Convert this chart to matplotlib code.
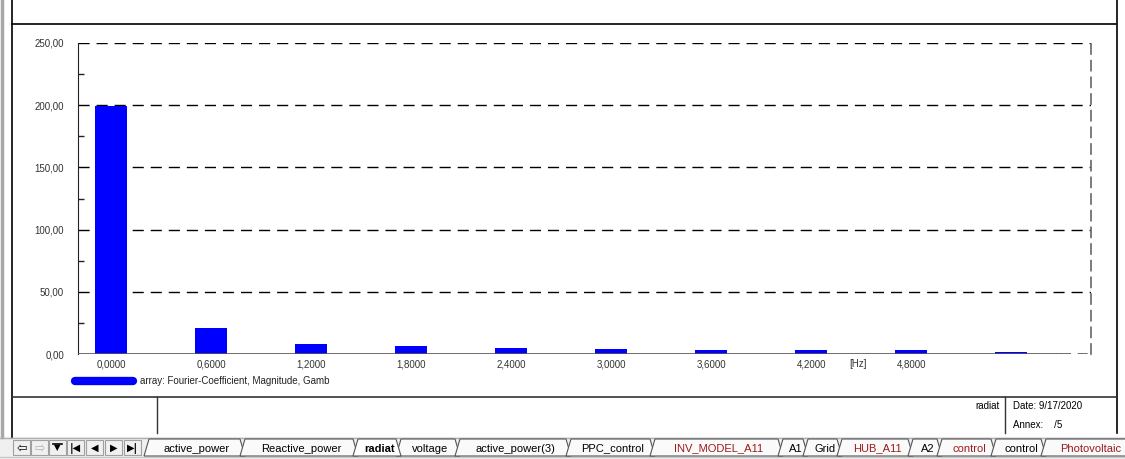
"""Fourier-coefficient magnitude bar chart in a PowerFactory style page frame."""

import matplotlib.pyplot as plt
from matplotlib.patches import Polygon, Rectangle

# --- data ------------------------------------------------------------------
freq_hz = [0.0, 0.6, 1.2, 1.8, 2.4, 3.0, 3.6, 4.2, 4.8, 5.4]
magnitude = [199.0, 21.0, 8.3, 6.6, 5.0, 4.0, 3.2, 3.2, 3.0, 2.0]
x_ticks = [0.0, 0.6, 1.2, 1.8, 2.4, 3.0, 3.6, 4.2, 4.8]
y_ticks = [0, 50, 100, 150, 200, 250]
legend_label = "array: Fourier-Coefficient, Magnitude, Gamb"
tab_names = ["active_power", "Reactive_power", "radiat", "voltage",
             "active_power(3)", "PPC_control", "INV_MODEL_A11", "A1", "Grid",
             "HUB_A11", "A2", "control", "control", "Photovoltaic"]
tab_red = [False, False, False, False, False, False, True, False, False,
           True, False, True, False, True]

W, H = 1125, 459
FONT = "Liberation Sans"
BLUE = "#0000ff"

plt.rcParams["font.family"] = [FONT, "DejaVu Sans"]
fig = plt.figure(figsize=(W / 100, H / 100), dpi=100)


def fx(px):
    return px / W


def fy(py):
    return 1 - py / H


# --- chart axes, placed in pixel coords of the screenshot ------------------
left, right, top, bottom = 78, 1091, 43, 354
ax = fig.add_axes([fx(left), fy(bottom), fx(right - left), (bottom - top) / H])
ax.bar(freq_hz, magnitude, width=0.192, color=BLUE, zorder=3)
ax.set_xlim(-0.198, 5.878)
ax.set_ylim(0, 250)

ax.set_xticks(x_ticks)
ax.set_xticklabels([f"{v:.4f}".replace(".", ",") for v in x_ticks])
ax.set_yticks(y_ticks)
ax.set_yticklabels([f"{v:.2f}".replace(".", ",") for v in y_ticks])
ax.set_yticks([25, 75, 125, 175, 225], minor=True)
ax.tick_params(axis="both", which="major", length=0, labelsize=7,
               labelcolor="#333333")
ax.tick_params(axis="x", pad=4)
ax.tick_params(axis="y", pad=10)
ax.tick_params(axis="y", which="minor", direction="in", length=4,
               color="#222222", width=1)
ax.text(4.48, -0.017, "[Hz]", transform=ax.get_xaxis_transform(),
        ha="center", va="top", fontsize=7, color="#333333")

for v in y_ticks[1:]:
    ax.axhline(v, color="black", lw=1, ls=(0, (8, 5)), zorder=1)
ax.axhline(0, xmin=0, xmax=0.97, color="#555555", lw=1.2, zorder=4)
ax.axhline(0, xmin=0.97, xmax=1, color="#555555", lw=1.2,
           ls=(0, (6, 4)), zorder=4)

for side in ("top", "bottom"):
    ax.spines[side].set_visible(False)
ax.spines["left"].set_color("#222222")
ax.spines["right"].set_color("#666666")
ax.spines["right"].set_linestyle((0, (6, 4)))
ax.spines["right"].set_linewidth(1.2)

# --- overlay for the page frame, legend and tab bar ------------------------
ov = fig.add_axes([0, 0, 1, 1], zorder=-1)
ov.set_xlim(0, W)
ov.set_ylim(H, 0)
ov.axis("off")

ov.plot([75, 133], [381, 381], color=BLUE, lw=6, solid_capstyle="round")
ov.text(140, 381, legend_label, fontsize=7, va="center", color="#222222")

ov.plot([2, 2], [0, 437], color="#a8a8a8", lw=2.5)
ov.plot([11.5, 11.5], [0, 437], color="black", lw=1.2)
ov.plot([12, 1116], [24, 24], color="black", lw=1.2)
ov.plot([1116.5, 1116.5], [0, 433], color="black", lw=1.2)
ov.plot([12, 1116], [397, 397], color="#333333", lw=1.2)
ov.plot([157, 157], [397, 433], color="#333333", lw=1)
ov.plot([1005, 1005], [397, 433], color="#333333", lw=1)
ov.text(1000, 406, "radiat", fontsize=7, ha="right", va="center")
ov.text(1013, 406, "Date: 9/17/2020", fontsize=7, va="center")
ov.text(1013, 425, "Annex:    /5", fontsize=7, va="center")

# tab bar
ov.add_patch(Rectangle((0, 437), W, 22, color="#f0f0f0", zorder=0))
ov.plot([0, W], [437.5, 437.5], color="#b0b0b0", lw=1)
ov.plot([0, W], [456.5, 456.5], color="#c8c8c8", lw=1)

# navigation buttons
btn_x = [13, 31, 49, 67, 86, 105, 124]
for bx in btn_x:
    ov.add_patch(Rectangle((bx, 440), 17, 15, fc="#f0f0f0", ec="#a0a0a0",
                           lw=0.8, zorder=2))
ov.text(btn_x[0] + 8.5, 448, "⇦", fontsize=9, ha="center", va="center",
        family="DejaVu Sans", zorder=3)
ov.text(btn_x[1] + 8.5, 448, "⇨", fontsize=9, ha="center", va="center",
        family="DejaVu Sans", color="#b0b0b0", zorder=3)
ov.text(btn_x[2] + 8.5, 448, "▼", fontsize=6, ha="center", va="center",
        family="DejaVu Sans", zorder=3)
ov.plot([btn_x[2] + 4, btn_x[2] + 13], [443.5, 443.5], color="black", lw=1.2,
        zorder=3)
ov.text(btn_x[3] + 8.5, 448, "|◀", fontsize=7, ha="center", va="center",
        family="DejaVu Sans", weight="bold", zorder=3)
ov.text(btn_x[4] + 8.5, 448, "◀", fontsize=7, ha="center", va="center",
        family="DejaVu Sans", zorder=3)
ov.text(btn_x[5] + 8.5, 448, "▶", fontsize=7, ha="center", va="center",
        family="DejaVu Sans", zorder=3)
ov.text(btn_x[6] + 8.5, 448, "▶|", fontsize=7, ha="center", va="center",
        family="DejaVu Sans", weight="bold", zorder=3)

# tabs: separator x positions (bottom of the slant) and label centres
tab_edges = [144, 240, 353, 396, 455, 566, 650, 778, 803, 837, 908, 937,
             991, 1041, 1130]
for i, name in enumerate(tab_names):
    x0, x1 = tab_edges[i], tab_edges[i + 1]
    active = name == "radiat"
    poly = Polygon([(x0, 456), (x0 + 5, 439), (x1, 439), (x1 + 5, 456)],
                   closed=True, fc="white" if active else "#fafafa",
                   ec="#555555", lw=0.8, zorder=2 if not active else 2.5)
    ov.add_patch(poly)
    ov.text((x0 + x1) / 2 + 5, 448.5, name, fontsize=8, ha="center",
            va="center", weight="bold" if active else "normal",
            color="#9b1b1b" if tab_red[i] else "black", zorder=3)

fig.savefig("out.png", dpi=100)
